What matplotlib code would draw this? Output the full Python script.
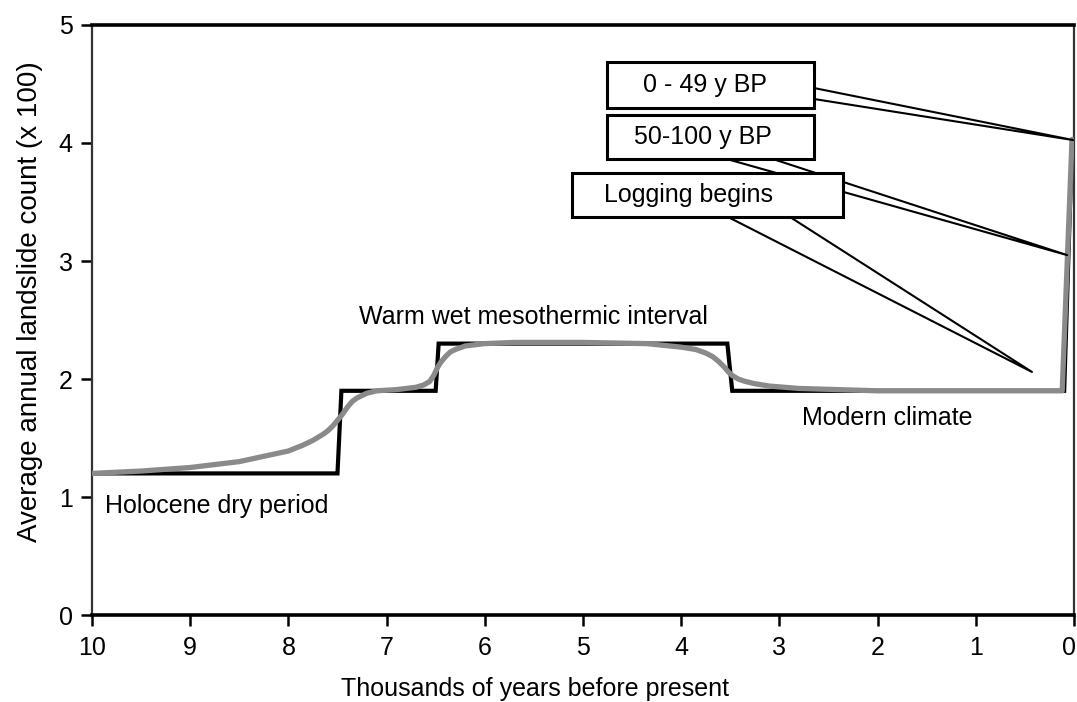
import matplotlib
matplotlib.use("Agg")
import matplotlib.pyplot as plt
import matplotlib.transforms as mtransforms
from matplotlib.patches import Rectangle

plt.rcParams['font.family'] = ['Liberation Sans', 'DejaVu Sans']

# step model (black) - thousands of years BP vs landslide count (x100)
step_x = [10, 7.5, 7.46, 6.5, 6.47, 3.53, 3.48, 0.1, 0.02]
step_y = [1.2, 1.2, 1.9, 1.9, 2.3, 2.3, 1.9, 1.9, 4.0]

# smoothed curve (grey)
smooth_x = [10, 9.5, 9, 8.5, 8, 7.85, 7.75, 7.65, 7.6, 7.55, 7.5, 7.45, 7.4,
            7.35, 7.3, 7.2, 7.1, 6.9, 6.7, 6.62, 6.56, 6.52, 6.48, 6.45, 6.4,
            6.35, 6.3, 6.2, 6.0, 5.7, 5.0, 4.35, 4.0, 3.85, 3.75, 3.68, 3.62,
            3.56, 3.52, 3.48, 3.42, 3.35, 3.25, 3.1, 2.8, 2.4, 2.0, 1.0, 0.12,
            0.02]
smooth_y = [1.2, 1.22, 1.25, 1.3, 1.39, 1.44, 1.48, 1.53, 1.56, 1.6, 1.65,
            1.7, 1.76, 1.81, 1.84, 1.88, 1.9, 1.91, 1.93, 1.95, 1.98, 2.03,
            2.1, 2.14, 2.19, 2.23, 2.25, 2.28, 2.3, 2.31, 2.31, 2.3, 2.27,
            2.25, 2.22, 2.19, 2.15, 2.1, 2.06, 2.03, 2.0, 1.98, 1.96, 1.94,
            1.92, 1.91, 1.9, 1.9, 1.9, 4.03]

x_ticks = [10, 9, 8, 7, 6, 5, 4, 3, 2, 1, 0]
y_ticks = [0, 1, 2, 3, 4, 5]

fig = plt.figure(figsize=(10.77, 7.02), dpi=100)
ax = fig.add_axes([0.0854, 0.1239, 0.9118, 0.8405])

ax.plot(step_x, step_y, color='black', lw=3, solid_joinstyle='miter', zorder=3)
ax.plot(smooth_x, smooth_y, color='#8a8a8a', lw=3.8, solid_capstyle='round',
        solid_joinstyle='round', zorder=4)

ax.set_xlim(10, 0)
ax.set_ylim(0, 5)
ax.set_xticks(x_ticks)
ax.set_yticks(y_ticks)
ax.tick_params(axis='both', labelsize=18, width=1.8, length=8, direction='out')
ax.tick_params(axis='x', pad=7)
ax.tick_params(axis='y', pad=6)

# keep the last "0" label inside the figure
last = ax.get_xticklabels()[-1]
last.set_transform(last.get_transform() +
                   mtransforms.ScaledTranslation(-5 / 100, 0, fig.dpi_scale_trans))

for s in ['top', 'bottom']:
    ax.spines[s].set_linewidth(2.6)
    ax.spines[s].set_color('black')
for s in ['left', 'right']:
    ax.spines[s].set_linewidth(1.6)
    ax.spines[s].set_color('#333333')

ax.set_xlabel('Thousands of years before present', fontsize=18)
ax.xaxis.set_label_coords(0.451, -0.105)
ax.xaxis.label.set_va('top')
ax.set_ylabel('Average annual landslide count (x 100)', fontsize=20)
ax.yaxis.set_label_coords(-0.05, 0.532)

# period labels
ax.text(9.87, 0.864, 'Holocene dry period', fontsize=18, ha='left', va='baseline')
ax.text(5.5, 2.47, 'Warm wet mesothermic interval', fontsize=18, ha='center', va='baseline')
ax.text(1.9, 1.61, 'Modern climate', fontsize=18, ha='center', va='baseline')

# callout boxes: (x0, x1, y0, y1), text position, wedge base points, tip
callouts = [
    ('50-100 y BP', (4.756, 2.648, 3.864, 4.237), (3.78, 4.05),
     [(3.534, 3.864), (0.07, 3.05), (3.065, 3.864)]),
    ('Logging begins', (5.11, 2.352, 3.373, 3.746), (3.93, 3.56),
     [(3.523, 3.373), (0.428, 2.06), (2.892, 3.373)]),
    ('0 - 49 y BP', (4.756, 2.648, 4.297, 4.686), (3.76, 4.49),
     [(2.648, 4.466), (0.01, 4.025), (2.648, 4.373)]),
]
z = 5
for label, (x0, x1, y0, y1), (tx, ty), wedge in callouts:
    wx = [p[0] for p in wedge]
    wy = [p[1] for p in wedge]
    ax.plot(wx, wy, color='black', lw=1.5, zorder=z, clip_on=False)
    ax.add_patch(Rectangle((x1, y0), x0 - x1, y1 - y0, facecolor='white',
                           edgecolor='black', lw=2.2, zorder=z + 1))
    ax.text(tx, ty, label, fontsize=18, ha='center', va='center', zorder=z + 2)
    z += 3

fig.savefig('out.png', dpi=100)
